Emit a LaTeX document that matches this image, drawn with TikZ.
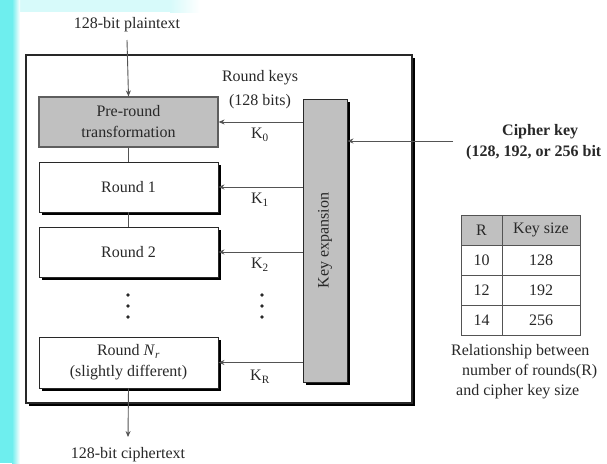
\documentclass[tikz,border=0pt]{standalone}
\usepackage{fontspec}
\setmainfont{Liberation Serif}
\usetikzlibrary{arrows.meta,calc,shadows}
\definecolor{cyanstrip}{RGB}{110,238,238}
\definecolor{cyanpale}{RGB}{215,250,250}
\definecolor{boxgray}{RGB}{192,192,192}
\definecolor{ink}{RGB}{40,40,40}
\begin{document}
\begin{tikzpicture}[x=1pt,y=-1pt,
  txt/.style={font=\fontsize{16}{21}\selectfont, text=ink, inner sep=0pt, align=center},
  shbox/.style={draw=ink, line width=0.9pt, drop shadow={fill=black, opacity=1, shadow xshift=2.5pt, shadow yshift=-2.5pt}},
  rbox/.style={shbox, fill=white, minimum width=179, minimum height=50, txt},
  gbox/.style={draw=ink!75, line width=1.2pt, fill=boxgray, minimum width=179, minimum height=50, txt},
  link/.style={draw=ink!80, line width=0.9pt},
  arr/.style={link, -{Stealth[length=6pt,width=5pt]}},
  cell/.style={txt}
]
\useasboundingbox (0,0) rectangle (607,463);
% background
\fill[white] (0,0) rectangle (607,463);
\fill[cyanpale] (0,0) rectangle (170,12);
\shade[left color=cyanpale, right color=white] (170,0) rectangle (200,12);
\fill[cyanstrip] (0,0) rectangle (12,463);
\shade[left color=cyanstrip, right color=white] (12,0) rectangle (20,463);

% outer frame
\node[draw=ink, line width=1.2pt, fill=white, minimum width=386, minimum height=348,
      drop shadow={fill=black, opacity=1, shadow xshift=2.5pt, shadow yshift=-2.5pt}] (frame) at (219,229) {};

% rounds
\node[gbox] (pre) at (128.5,122) {Pre-round\\transformation};
\node[rbox] (r1) at (128.5,187) {Round 1};
\node[rbox] (r2) at (128.5,252) {Round 2};
\node[rbox, minimum height=51] (rn) at (128.5,362.5) {Round \textit{N}\textsubscript{\textit{r}}\\(slightly different)};

% key expansion
\node[shbox, fill=boxgray, minimum width=44, minimum height=283] (kx) at (325,240.5) {};
\node[txt, rotate=90] (kxl) at (kx.center) {Key expansion};

% plaintext / ciphertext
\node[txt] (pt) at (127,25) {128-bit plaintext};
\node[txt] (ct) at (128,455) {128-bit ciphertext};
\coordinate (ptend) at (127,40);
\coordinate (ctend) at (128,437);
\draw[arr] (ptend) -- (pre.north);
\draw[link] (pre.south) -- (r1.north);
\draw[link] (r1.south) -- (r2.north);
\draw[arr] (rn.south) -- (ctend);

% round keys
\node[txt] (rk) at (260,78) {Round keys};
\node[txt] (rkb) at (260,102) {(128 bits)};
\draw[arr] (kx.west |- pre.east) -- (pre.east);
\draw[arr] (kx.west |- r1.east) -- (r1.east);
\draw[arr] (kx.west |- r2.east) -- (r2.east);
\draw[arr] (kx.west |- rn.east) -- (rn.east);
\node[txt] (k0) at (260,135) {K\textsubscript{0}};
\node[txt] (k1) at (260,200) {K\textsubscript{1}};
\node[txt] (k2) at (260,265) {K\textsubscript{2}};
\node[txt] (kr) at (260,377) {K\textsubscript{R}};

% dots
\foreach \yy in {295,306,317} {
  \fill[ink] (128,\yy) circle (1.9);
  \fill[ink] (262,\yy) circle (1.9);
}

% cipher key
\coordinate (ck) at (453,141);
\draw[arr] (ck) -- (ck -| kx.east);
\node[txt, font=\fontsize{16}{21}\selectfont\bfseries, anchor=west] (ck1) at (502,132) {Cipher key};
\node[txt, font=\fontsize{16}{21}\selectfont\bfseries, anchor=west] (ck2) at (466,153) {(128, 192, or 256 bit};

% table
\fill[boxgray] (461,215) rectangle (580,245);
\draw[ink!80, line width=0.9pt] (461,215) rectangle (580,335);
\foreach \yy in {245,275,305} \draw[ink!80, line width=0.9pt] (461,\yy) -- (580,\yy);
\draw[ink!80, line width=0.9pt] (502,215) -- (502,335);
\node[cell] (h1) at (481.5,230) {R};
\node[cell] (h2) at (541,230) {Key size};
\node[cell] (a1) at (481.5,260) {10};
\node[cell] (a2) at (541,260) {128};
\node[cell] (b1) at (481.5,290) {12};
\node[cell] (b2) at (541,290) {192};
\node[cell] (c1) at (481.5,320) {14};
\node[cell] (c2) at (541,320) {256};
\node[txt, anchor=west] (cap1) at (451,352) {Relationship between};
\node[txt, anchor=west] (cap2) at (462,372) {number of rounds(R)};
\node[txt, anchor=west] (cap3) at (456,392) {and cipher key size};
\end{tikzpicture}
\end{document}
